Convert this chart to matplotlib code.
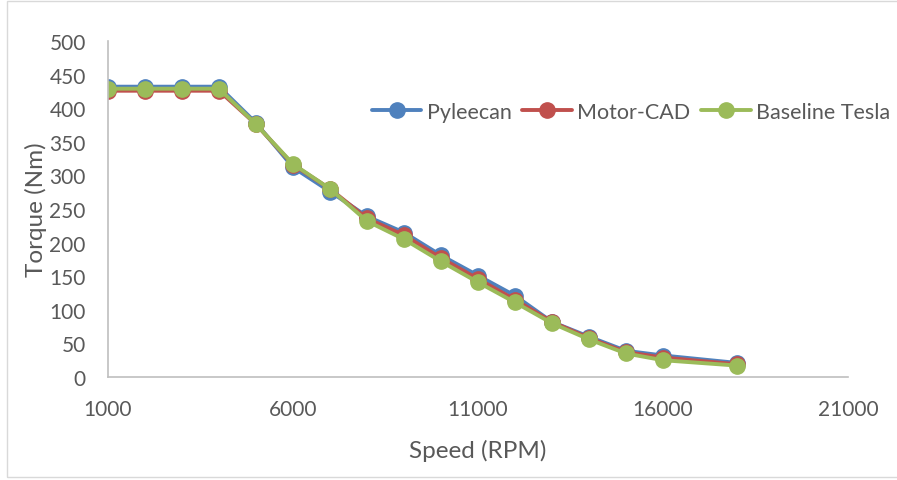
import matplotlib
matplotlib.use("Agg")
import matplotlib.pyplot as plt
from matplotlib.patches import Rectangle

speed = [1000, 2000, 3000, 4000, 5000, 6000, 7000, 8000, 9000, 10000,
         11000, 12000, 13000, 14000, 15000, 16000, 18000]
pyleecan = [432, 432, 432, 432, 378, 312, 276, 239, 215, 181, 151, 121, 82, 60, 39, 32, 21]
motorcad = [426, 426, 426, 426, 376, 316, 280, 236, 211, 177, 146, 115, 82, 58, 37, 29, 19]
baseline = [429, 429, 429, 429, 376, 317, 280, 232, 205, 172, 141, 111, 80, 56, 35, 25, 17]

x_ticks = [1000, 6000, 11000, 16000, 21000]
y_ticks = list(range(0, 501, 50))

TEXT = "#595959"
plt.rcParams['font.family'] = ['Lato', 'DejaVu Sans']

fig = plt.figure(figsize=(8.97, 4.81), dpi=100)
ax = fig.add_axes([0.1204, 0.2141, 0.8250, 0.6986])

series = [
    (pyleecan, "Pyleecan", "#4F81BD"),
    (motorcad, "Motor-CAD", "#C0504D"),
    (baseline, "Baseline Tesla", "#9BBB59"),
]
for vals, name, col in series:
    ax.plot(speed, vals, color=col, lw=2.8, marker='o', markersize=11,
            markerfacecolor=col, markeredgecolor=col, label=name,
            solid_capstyle='round')

ax.set_xlim(1000, 21000)
ax.set_ylim(0, 500)
ax.set_xticks(x_ticks)
ax.set_yticks(y_ticks)
ax.tick_params(length=0, colors=TEXT, labelsize=15)
ax.tick_params(axis='x', pad=16)
ax.tick_params(axis='y', pad=16)
for s in ['top', 'right']:
    ax.spines[s].set_visible(False)
for s in ['left', 'bottom']:
    ax.spines[s].set_color('#BFBFBF')
    ax.spines[s].set_linewidth(1.2)

ax.set_xlabel("Speed (RPM)", fontsize=17.5, color=TEXT, labelpad=14)
ax.set_ylabel("Torque (Nm)", fontsize=17.5, color=TEXT, labelpad=2)

leg = ax.legend(loc='center left', bbox_to_anchor=(0.345, 0.789), ncol=3,
                frameon=False, fontsize=15.5, handlelength=2.3,
                handletextpad=0.25, columnspacing=0.5, borderaxespad=0)
for t in leg.get_texts():
    t.set_color(TEXT)

fig.patches.append(Rectangle((7 / 897, 3 / 481), 1.0, 476 / 481,
                             transform=fig.transFigure, fill=False,
                             edgecolor='#D9D9D9', lw=1.0, clip_on=False))

fig.savefig("out.png", dpi=100)
